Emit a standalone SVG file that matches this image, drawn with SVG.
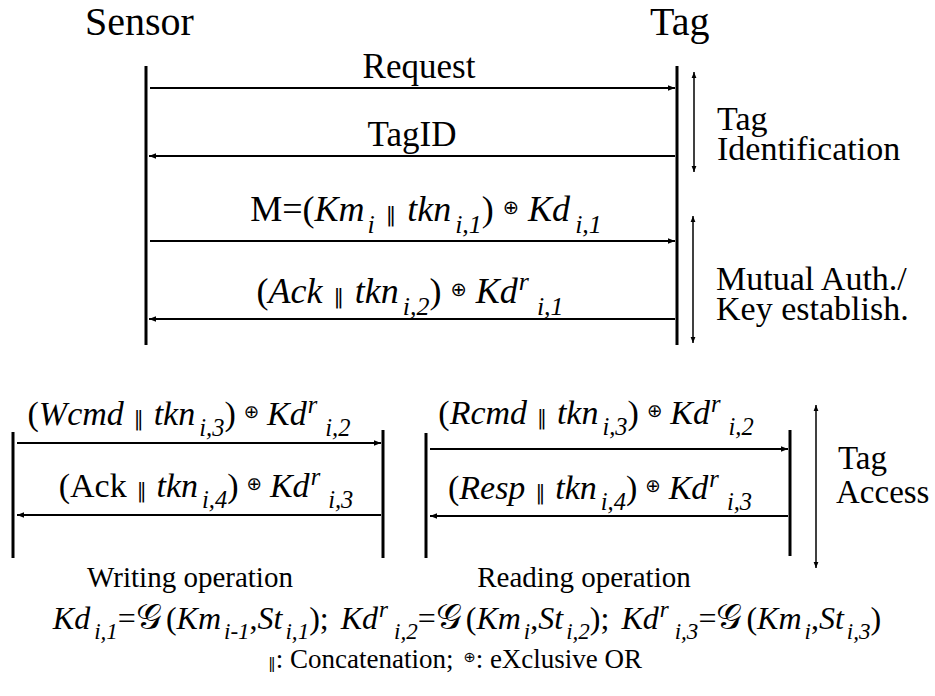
<svg xmlns="http://www.w3.org/2000/svg" width="935" height="696" viewBox="0 0 935 696">
<style>
.t{font-family:"Liberation Serif","Tinos","DejaVu Serif",serif;fill:#000}
.i{font-style:italic}
.s{font-size:72%}
.cc{font-family:"DejaVu Serif",serif;font-size:58%;font-style:normal}
.ox{font-family:"DejaVu Sans",sans-serif;font-size:54%;font-style:normal}
.g{font-family:"DejaVu Serif","DejaVu Sans",serif;font-style:normal}
.life{stroke:#000;stroke-width:3;fill:none}
.msg{stroke:#000;stroke-width:2;fill:none;marker-end:url(#ah)}
.span{stroke:#000;stroke-width:1.5;fill:none;marker-start:url(#sh);marker-end:url(#sh)}
</style>
<defs>
<marker id="ah" viewBox="0 0 10 10" refX="10" refY="5" markerWidth="8" markerHeight="7" markerUnits="userSpaceOnUse" orient="auto"><path d="M0,1L10,5L0,9z" fill="#000"/></marker>
<marker id="sh" viewBox="0 0 10 10" refX="10" refY="5" markerWidth="9" markerHeight="6" markerUnits="userSpaceOnUse" orient="auto-start-reverse"><path d="M0,1L10,5L0,9z" fill="#000"/></marker>
</defs>
<rect width="935" height="696" fill="#fff"/>

<g id="sensor">
<text class="t" x="85" y="35" font-size="40">Sensor</text>
<line class="life" x1="146" y1="66" x2="146" y2="345"/>
</g>
<g id="tag">
<text class="t" x="650" y="35" font-size="40">Tag</text>
<line class="life" x1="677" y1="66" x2="677" y2="345"/>
</g>
<g id="write-box">
<line class="life" x1="13" y1="432" x2="13" y2="558"/>
<line class="life" x1="383" y1="430" x2="383" y2="558"/>
<text class="t" x="190" y="587" font-size="29" text-anchor="middle">Writing operation</text>
</g>
<g id="read-box">
<line class="life" x1="426" y1="433" x2="426" y2="558"/>
<line class="life" x1="790" y1="430" x2="790" y2="556"/>
<text class="t" x="584" y="587" font-size="29" text-anchor="middle">Reading operation</text>
</g>
<g id="phase-labels">
<text class="t" x="717" y="130" font-size="34">Tag<tspan x="717" dy="30">Identification</tspan></text>
<text class="t" x="716" y="290" font-size="34">Mutual Auth./<tspan x="716" dy="30">Key establish.</tspan></text>
<text class="t" x="838" y="469" font-size="33">Tag<tspan x="836" dy="34">Access</tspan></text>
</g>

<g id="connectors">
<line class="msg" x1="150" y1="88" x2="675" y2="88"/>
<line class="msg" x1="675" y1="156" x2="149" y2="156"/>
<line class="msg" x1="150" y1="241" x2="675" y2="241"/>
<line class="msg" x1="675" y1="319" x2="149" y2="319"/>
<line class="span" x1="694" y1="72" x2="694" y2="172"/>
<line class="span" x1="693" y1="216" x2="693" y2="343"/>
<line class="msg" x1="17" y1="443" x2="381" y2="443"/>
<line class="msg" x1="381" y1="515" x2="17" y2="515"/>
<line class="msg" x1="430" y1="449" x2="788" y2="449"/>
<line class="msg" x1="788" y1="516" x2="430" y2="516"/>
<line class="span" x1="816" y1="405" x2="816" y2="568"/>
</g>

<g id="message-labels">
<text class="t" x="419" y="78" font-size="35" text-anchor="middle">Request</text>
<text class="t" x="412" y="146" font-size="35" text-anchor="middle">TagID</text>
<text class="t" x="426" y="221" font-size="36" text-anchor="middle">M=(<tspan class="i">Km</tspan><tspan class="i s" dx="3" dy="12">i</tspan><tspan class="cc" dx="11" dy="-12">‖</tspan><tspan class="i" dx="11">tkn</tspan><tspan class="i s" dx="4" dy="12">i,1</tspan><tspan dy="-12">)</tspan><tspan class="ox" dx="9" dy="-7">⊕</tspan><tspan class="i" dx="9" dy="7">Kd</tspan><tspan class="i s" dx="5" dy="12">i,1</tspan></text>
<text class="t" x="410" y="303" font-size="36" text-anchor="middle">(<tspan class="i">Ack</tspan><tspan class="cc" dx="11">‖</tspan><tspan class="i" dx="11">tkn</tspan><tspan class="i s" dx="4" dy="12">i,2</tspan><tspan dy="-12">)</tspan><tspan class="ox" dx="9" dy="-7">⊕</tspan><tspan class="i" dx="9" dy="7">Kd</tspan><tspan class="i s" dx="1" dy="-13">r</tspan><tspan class="i s" dx="8" dy="25">i,1</tspan></text>
<text class="t" x="189" y="425" font-size="34" text-anchor="middle">(<tspan class="i">Wcmd</tspan><tspan class="cc" dx="10">‖</tspan><tspan class="i" dx="10">tkn</tspan><tspan class="i s" dx="4" dy="11">i,3</tspan><tspan dy="-11">)</tspan><tspan class="ox" dx="8" dy="-7">⊕</tspan><tspan class="i" dx="8" dy="7">Kd</tspan><tspan class="i s" dx="1" dy="-12">r</tspan><tspan class="i s" dx="8" dy="23">i,2</tspan></text>
<text class="t" x="206" y="497" font-size="34" text-anchor="middle">(Ack<tspan class="cc" dx="10">‖</tspan><tspan class="i" dx="10">tkn</tspan><tspan class="i s" dx="4" dy="11">i,4</tspan><tspan dy="-11">)</tspan><tspan class="ox" dx="8" dy="-7">⊕</tspan><tspan class="i" dx="8" dy="7">Kd</tspan><tspan class="i s" dx="1" dy="-12">r</tspan><tspan class="i s" dx="8" dy="23">i,3</tspan></text>
<text class="t" x="596" y="424" font-size="34" text-anchor="middle">(<tspan class="i">Rcmd</tspan><tspan class="cc" dx="10">‖</tspan><tspan class="i" dx="10">tkn</tspan><tspan class="i s" dx="4" dy="11">i,3</tspan><tspan dy="-11">)</tspan><tspan class="ox" dx="8" dy="-7">⊕</tspan><tspan class="i" dx="8" dy="7">Kd</tspan><tspan class="i s" dx="1" dy="-12">r</tspan><tspan class="i s" dx="8" dy="23">i,2</tspan></text>
<text class="t" x="600" y="499" font-size="34" text-anchor="middle">(<tspan class="i">Resp</tspan><tspan class="cc" dx="10">‖</tspan><tspan class="i" dx="10">tkn</tspan><tspan class="i s" dx="4" dy="11">i,4</tspan><tspan dy="-11">)</tspan><tspan class="ox" dx="8" dy="-7">⊕</tspan><tspan class="i" dx="8" dy="7">Kd</tspan><tspan class="i s" dx="1" dy="-12">r</tspan><tspan class="i s" dx="8" dy="23">i,3</tspan></text>
</g>

<g id="formula">
<text class="t" x="467" y="629" font-size="32" text-anchor="middle"><tspan class="i">Kd</tspan><tspan class="i s" dx="4" dy="10">i,1</tspan><tspan dy="-10">=</tspan><tspan class="g i" font-size="36">𝒢</tspan><tspan dx="4">(</tspan><tspan class="i">Km</tspan><tspan class="i s" dx="3" dy="10">i-1</tspan><tspan dy="-10">,</tspan><tspan class="i">St</tspan><tspan class="i s" dx="3" dy="10">i,1</tspan><tspan dy="-10">);</tspan><tspan class="i" dx="12">Kd</tspan><tspan class="i s" dx="1" dy="-12">r</tspan><tspan class="i s" dx="6" dy="22">i,2</tspan><tspan dy="-10">=</tspan><tspan class="g i" font-size="36">𝒢</tspan><tspan dx="4">(</tspan><tspan class="i">Km</tspan><tspan class="i s" dx="3" dy="10">i</tspan><tspan dy="-10">,</tspan><tspan class="i">St</tspan><tspan class="i s" dx="3" dy="10">i,2</tspan><tspan dy="-10">);</tspan><tspan class="i" dx="12">Kd</tspan><tspan class="i s" dx="1" dy="-12">r</tspan><tspan class="i s" dx="6" dy="22">i,3</tspan><tspan dy="-10">=</tspan><tspan class="g i" font-size="36">𝒢</tspan><tspan dx="4">(</tspan><tspan class="i">Km</tspan><tspan class="i s" dx="3" dy="10">i</tspan><tspan dy="-10">,</tspan><tspan class="i">St</tspan><tspan class="i s" dx="3" dy="10">i,3</tspan><tspan dy="-10">)</tspan></text>
<text class="t" x="455" y="668" font-size="27" text-anchor="middle"><tspan class="cc">‖</tspan>: Concatenation;<tspan class="ox" dx="10" dy="-6">⊕</tspan><tspan dy="6">: eXclusive OR</tspan></text>
</g>
</svg>
